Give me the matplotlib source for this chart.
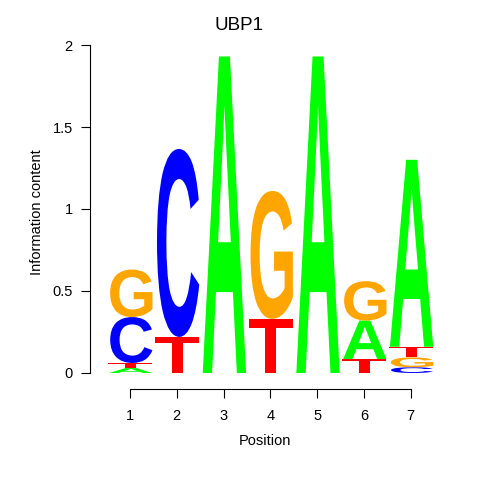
import numpy as np
import matplotlib
matplotlib.use("Agg")
import matplotlib.pyplot as plt
from matplotlib.textpath import TextPath
from matplotlib.font_manager import FontProperties
from matplotlib.patches import PathPatch
from matplotlib.transforms import Affine2D

plt.rcParams['font.family'] = ['Liberation Sans', 'DejaVu Sans']

# information content of each base per position
positions = [1, 2, 3, 4, 5, 6, 7]
A = [0.03, 0.00, 1.93, 0.00, 1.93, 0.235, 1.14]
C = [0.28, 1.146, 0.00, 0.00, 0.00, 0.00, 0.035]
G = [0.29, 0.00, 0.00, 0.78, 0.00, 0.24, 0.06]
T = [0.031, 0.22, 0.00, 0.33, 0.00, 0.085, 0.065]
title = "UBP1"

colors = {'A': '#00FF00', 'C': '#0000FF', 'G': '#FFA500', 'T': '#FF0000'}
heights = {'A': A, 'C': C, 'G': G, 'T': T}

fp = FontProperties(family='Liberation Sans', weight='bold')


def draw_letter(ax, ch, x, y0, h, w=0.96):
    tp = TextPath((0, 0), ch, size=1, prop=fp)
    v = tp.vertices
    xmin, ymin = v.min(axis=0)
    xmax, ymax = v.max(axis=0)
    tr = Affine2D().translate(-xmin, -ymin) \
        .scale(w / (xmax - xmin), h / (ymax - ymin)) \
        .translate(x - w / 2, y0)
    ax.add_patch(PathPatch(tr.transform_path(tp), fc=colors[ch], ec='none'))


fig = plt.figure(figsize=(4.8, 4.8), dpi=100)
# pixel mapping: x=1 -> 130px, 46.8 px/unit ; y=0 -> 373px, 164 px/unit
left_px, right_px, bot_px, top_px = 90, 440, 389, 35
ax = fig.add_axes([left_px / 480, 1 - bot_px / 480,
                   (right_px - left_px) / 480, (bot_px - top_px) / 480])
ax.set_xlim(1 - (130 - left_px) / 46.8, 1 + (right_px - 130) / 46.8)
ax.set_ylim(-(bot_px - 373) / 164, (373 - top_px) / 164)

for i, p in enumerate(positions):
    stack = sorted(['A', 'C', 'G', 'T'], key=lambda b: heights[b][i])
    y = 0.0
    for b in stack:
        h = heights[b][i]
        if h > 0.001:
            draw_letter(ax, b, p, y, h)
            y += h

for s in ['top', 'right']:
    ax.spines[s].set_visible(False)
ax.spines['left'].set_bounds(0, 2)
ax.spines['bottom'].set_bounds(1, 7)
ax.set_xticks(positions)
ax.set_xticklabels([str(p) for p in positions])
ax.set_yticks([0, 0.5, 1, 1.5, 2])
ax.set_yticklabels(['0', '0.5', '1', '1.5', '2'])
ax.tick_params(axis='both', direction='out', length=6.5, width=0.8, labelsize=10.5)
ax.tick_params(axis='y', pad=6)
ax.tick_params(axis='x', pad=8)
ax.set_xlabel("Position", fontsize=10.5, labelpad=8)
ax.set_ylabel("Information content", fontsize=10.5, labelpad=6)
fig.text(239 / 480, 1 - 25 / 480, title, fontsize=13.5, ha='center', va='center')

fig.savefig("out.png", dpi=100)
